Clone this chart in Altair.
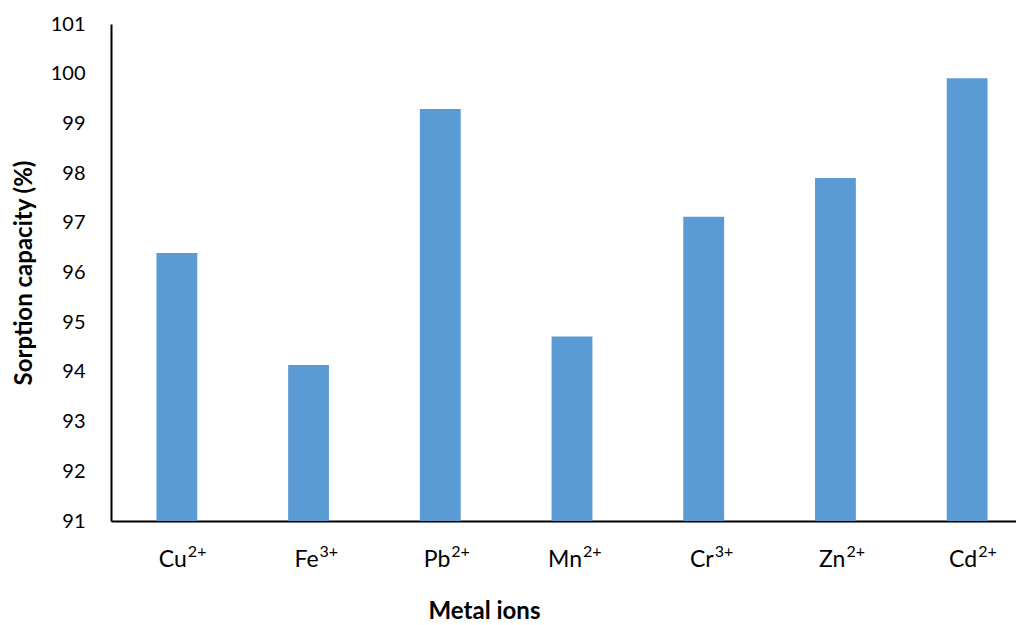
import altair as alt
import pandas as pd

ion_names = ["Cu", "Fe", "Pb", "Mn", "Cr", "Zn", "Cd"]
charges = ["2+", "3+", "2+", "2+", "3+", "2+", "2+"]
capacity = [96.39, 94.14, 99.29, 94.71, 97.12, 97.90, 99.91]
y_ticks = list(range(91, 102))

ions = [n + c for n, c in zip(ion_names, charges)]
df = pd.DataFrame({"ion": ions, "name": ion_names, "charge": charges, "cap": capacity})

FONT = "Lato"
H = 497

x_enc = alt.X("ion:N", sort=ions,
              scale=alt.Scale(paddingInner=0.69, paddingOuter=0.345, range=[0, 922]),
              axis=alt.Axis(title="Metal ions", labels=False, ticks=False,
                            titlePadding=78, titleX=373,
                            titleFontSize=24, titleFontWeight="bold"))

bars = alt.Chart(df).mark_bar(color="#5B9BD5").encode(
    x=x_enc,
    y=alt.Y("cap:Q", scale=alt.Scale(domain=[91, 101], zero=False, nice=False),
            axis=alt.Axis(title="Sorption capacity (%)", values=y_ticks,
                          ticks=False, grid=False, labelPadding=26,
                          labelFontSize=20, titleFontSize=24,
                          titleFontWeight="bold", titleX=-75)),
    y2=alt.datum(91),
)

base_txt = alt.Chart(df).mark_text(
    font=FONT, fontSize=23, align="right", baseline="alphabetic", dx=10, color="black"
).encode(x=alt.X("ion:N", sort=ions), y=alt.value(H + 46), text="name:N")

sup_txt = alt.Chart(df).mark_text(
    font=FONT, fontSize=16, align="left", baseline="alphabetic", dx=11, dy=-10, color="black"
).encode(x=alt.X("ion:N", sort=ions), y=alt.value(H + 46), text="charge:N")

chart = alt.layer(bars, base_txt, sup_txt).properties(
    width=905, height=H,
    background="white",
    autosize=alt.AutoSizeParams(type="none"),
    padding={"left": 103, "top": 16, "right": 0, "bottom": 104},
).configure_view(stroke=None).configure_axis(
    domainColor="black", domainWidth=2, labelColor="black", titleColor="black",
    labelFont=FONT, titleFont=FONT, labelFontWeight="normal",
)

chart.save("out.html", embed_options={"renderer": "svg", "actions": False})
